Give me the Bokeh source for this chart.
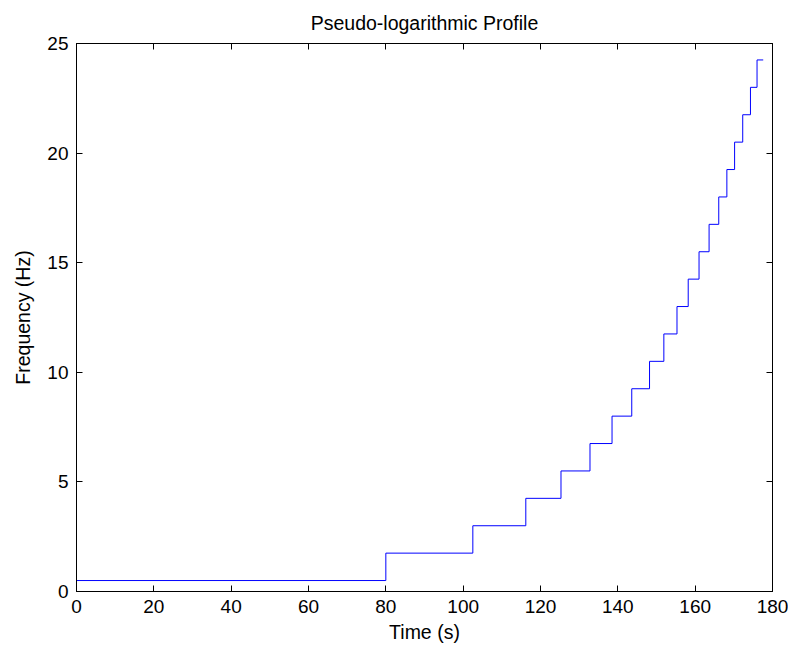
from bokeh.plotting import figure
from bokeh.models import LinearAxis, Range1d, FixedTicker, CustomJSTickFormatter
from bokeh.embed import file_html
from bokeh.resources import INLINE

# Step start times (s) and the frequency held from each start time (Hz)
times = [0, 80, 102.5, 116.2, 125.3, 132.8, 138.5, 143.6, 148.2, 151.9,
         155.3, 158.2, 161.0, 163.6, 166.1, 168.2, 170.2, 172.3, 174.3, 176.0]
freqs = [0.5, 1.75, 3.0, 4.25, 5.5, 6.75, 8.0, 9.25, 10.5, 11.75,
         13.0, 14.25, 15.5, 16.75, 18.0, 19.25, 20.5, 21.75, 23.0, 24.25]
end_time = 177.6

x_ticks = [0, 20, 40, 60, 80, 100, 120, 140, 160, 180]
y_ticks = [0, 5, 10, 15, 20, 25]

title = "Pseudo-logarithmic Profile"
x_label = "Time (s)"
y_label = "Frequency (Hz)"

FONT = "Liberation Sans"

p = figure(width=788, height=646, output_backend="svg", toolbar_location=None,
           x_range=Range1d(0, 180), y_range=Range1d(0, 25),
           min_border_left=76, min_border_right=16, min_border_top=43,
           min_border_bottom=55, title=title)
p.title.align = "center"
p.title.text_font = FONT
p.title.text_font_size = "19.5px"
p.title.text_font_style = "normal"
p.title.text_color = "black"
p.title.standoff = 19

p.xgrid.visible = False
p.ygrid.visible = False
p.outline_line_color = "black"
p.outline_line_width = 1
p.background_fill_color = "white"
p.border_fill_color = "white"

xs = times + [end_time]
ys = freqs + [freqs[-1]]
p.step(xs, ys, mode="after", line_color="#0000ff", line_width=1)

def style_axis(ax, ticks, show_labels=True):
    ax.ticker = FixedTicker(ticks=ticks)
    ax.major_tick_in = 6
    ax.major_tick_out = 0
    ax.minor_tick_in = 0
    ax.minor_tick_out = 0
    ax.axis_line_color = "black"
    ax.major_tick_line_color = "black"
    ax.major_label_text_font = FONT
    ax.major_label_text_font_size = "19px"
    ax.major_label_text_color = "black"
    ax.axis_label_text_font = FONT
    ax.axis_label_text_font_size = "19.5px"
    ax.axis_label_text_font_style = "normal"
    ax.axis_label_text_color = "black"
    if not show_labels:
        ax.formatter = CustomJSTickFormatter(code="return ''")
        ax.major_label_standoff = 0

style_axis(p.xaxis[0], x_ticks)
style_axis(p.yaxis[0], y_ticks)
p.xaxis[0].axis_label = x_label
p.yaxis[0].axis_label = y_label
p.xaxis[0].major_label_standoff = 8
p.yaxis[0].major_label_standoff = 8
p.xaxis[0].axis_label_standoff = 5
p.yaxis[0].axis_label_standoff = 10

top = LinearAxis()
style_axis(top, x_ticks, show_labels=False)
p.add_layout(top, "above")
right = LinearAxis()
style_axis(right, y_ticks, show_labels=False)
p.add_layout(right, "right")

open("out.html", "w").write(file_html(p, INLINE))
